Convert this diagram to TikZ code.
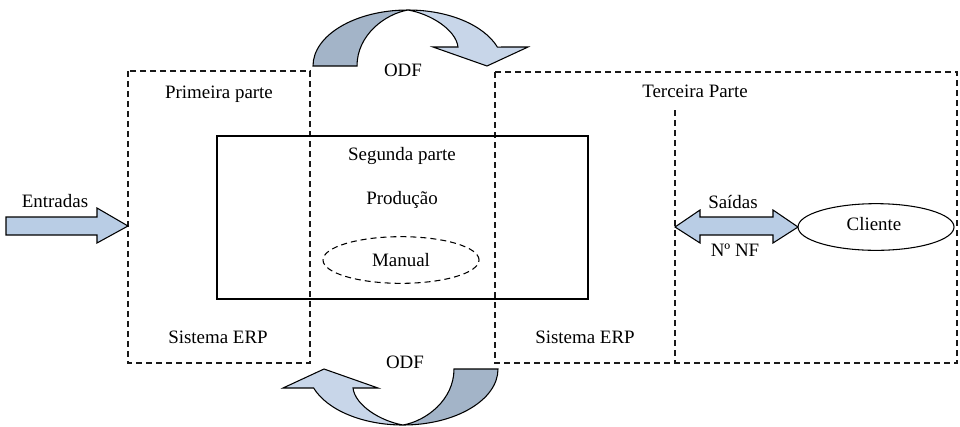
\documentclass[tikz,border=0pt]{standalone}
\usepackage{fontspec}
\usetikzlibrary{shapes.geometric}
\setmainfont{Liberation Serif}
\definecolor{arrowdark}{HTML}{A3B4C8}
\definecolor{arrowlight}{HTML}{C8D6E9}
\definecolor{blockfill}{HTML}{B9CDE5}
\tikzset{
  dashbox/.style={draw=black!90, line width=0.8pt, dash pattern=on 4.5pt off 3pt},
  solidbox/.style={draw=black, line width=0.8pt},
  lbl/.style={anchor=base, inner sep=0pt, font=\fontsize{14.2}{17}\selectfont},
  arrowpart/.style={draw=black, line width=0.8pt, line join=miter},
}
\begin{document}
\begin{tikzpicture}[x=0.75pt, y=-0.75pt]
\useasboundingbox (0,0) rectangle (960,426);

% dashed part boxes
\draw[dashbox] (128,71) rectangle (310,363);
\draw[dashbox] (495,72) rectangle (957,363);
\coordinate (divtop) at (675,110);
\coordinate (divbot) at (675,363);
\draw[dashbox] (divtop) -- (divbot);

% production block
\draw[solidbox] (217,136) rectangle (588,299);
\node[draw, dash pattern=on 4.5pt off 3pt, line width=0.8pt, ellipse, minimum width=117pt, minimum height=35pt, inner sep=0pt] (manual) at (401,260) {};
\node[lbl] (manualtxt) at (401,266) {Manual};

% labels
\node[lbl] (primeira) at (219,98) {Primeira parte};
\node[lbl] (terceira) at (695,97) {Terceira Parte};
\node[lbl] (segunda) at (402,160) {Segunda parte};
\node[lbl] (producao) at (402,204) {Produção};
\node[lbl] (erp1) at (218,343) {Sistema ERP};
\node[lbl] (erp2) at (585,343) {Sistema ERP};
\node[lbl] (odftop) at (403,76) {ODF};
\node[lbl] (odfbot) at (405,368) {ODF};
\node[lbl] (entradas) at (55,207) {Entradas};
\node[lbl] (saidas) at (733,208) {Saídas};
\node[lbl] (nf) at (735,256) {Nº NF};

% client
\node[draw, line width=0.8pt, ellipse, minimum width=117pt, minimum height=35pt, inner sep=0pt] (cliente) at (876,227) {};
\node[lbl] at (874,230) {Cliente};

% input block arrow
\filldraw[arrowpart, fill=blockfill]
  (6,217) -- (97,217) -- (97,208) -- (128,226) -- (97,243) -- (97,235) -- (6,235) -- cycle;

% output double block arrow
\filldraw[arrowpart, fill=blockfill]
  (675,227) -- (700,210) -- (700,217) -- (773,217) -- (773,210) -- (798,227)
  -- (773,243) -- (773,235) -- (700,235) -- (700,243) -- cycle;

% curved ODF arrows (drawn about the centre of their base)
\foreach \cx/\cy/\rot in {408/66/0, 403/369/180} {
  \begin{scope}[shift={(\cx,\cy)}, rotate=\rot]
    \filldraw[arrowpart, fill=arrowdark]
      (-95,0) arc[start angle=180, end angle=270, x radius=95, y radius=56]
      .. controls (-23,-52) and (-51,-31) .. (-51,0) -- cycle;
    \filldraw[arrowpart, fill=arrowlight]
      (0,-56) arc[start angle=270, end angle=340.2, x radius=95, y radius=56]
      -- (120,-19) -- (79,0) -- (25,-19) -- (50,-19)
      .. controls (48,-36) and (23,-52) .. (0,-56) -- cycle;
  \end{scope}
}
\end{tikzpicture}
\end{document}
